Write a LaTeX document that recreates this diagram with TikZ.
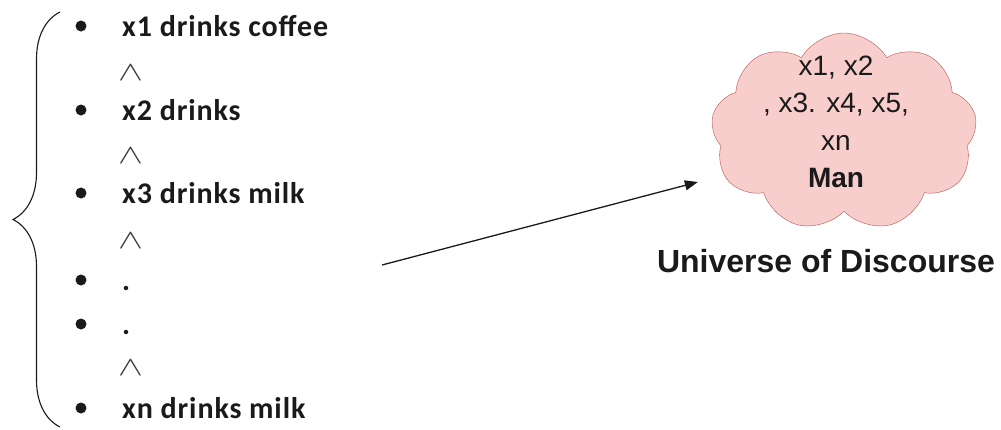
\documentclass[tikz,border=0pt]{standalone}
\usepackage{fontspec}
\newfontfamily\listfont[LetterSpace=3]{Carlito}
\newfontfamily\cloudfont{Liberation Sans}
\usetikzlibrary{arrows.meta,shapes.symbols,decorations.pathreplacing}
\definecolor{cloudfill}{HTML}{F8CECC}
\definecolor{cloudline}{HTML}{B85450}
\definecolor{ink}{HTML}{1A1A1A}
\begin{document}
\begin{tikzpicture}[x=1pt,y=-1pt,>={Triangle[length=13pt,width=10pt]},
  item/.style={anchor=base west,inner sep=0pt,text=ink,font={\listfont\bfseries\fontsize{30}{34}\selectfont}},
  andsym/.style={anchor=base west,inner sep=0pt,text=ink!85,font={\fontsize{30}{34}\selectfont}},
  bullet/.style={circle,fill=ink,inner sep=0pt,minimum size=11pt}]
\useasboundingbox (0,0) rectangle (1001,429);
% statements
\foreach \nm/\y/\txt in {a/36/x1 drinks coffee,b/120/x2 drinks,c/203/x3 drinks milk,d/290/.,e/334/.,f/418/xn drinks milk}{
  \node[item] (\nm) at (122,\y) {\txt};
  \node[bullet] (b\nm) at (81,\y-10) {};
}
\foreach \nm/\y in {w1/80,w2/163,w3/248,w4/375}
  \node[andsym] (\nm) at (118,\y) {\scalebox{1.5}[1.1]{$\wedge$}};
% brace
\coordinate (btop) at (60,12);
\coordinate (bbot) at (60,427);
\draw[ink,line width=1.1pt,decorate,decoration={brace,amplitude=47pt}] (bbot) -- (btop);
% domain
\node[cloud,cloud puffs=9,cloud puff arc=120,draw=cloudline,fill=cloudfill,minimum width=266pt,minimum height=198pt] (dom) at (844,132) {};
\node[align=center,inner sep=0pt,text=ink,font={\cloudfont\fontsize{28}{37.5}\selectfont}] (members) at (836,122) {x1, x2\\, x3. x4, x5,\\xn\\\textbf{Man}};
\node[anchor=base,inner sep=0pt,text=ink,font={\cloudfont\bfseries\fontsize{32}{36}\selectfont}] (uod) at (826,272) {Universe of Discourse};
% mapping
\coordinate (from) at (382,265);
\draw[->,ink,line width=1.3pt] (from) -- ([shift={(-15,50)}]dom.west);
\end{tikzpicture}
\end{document}
